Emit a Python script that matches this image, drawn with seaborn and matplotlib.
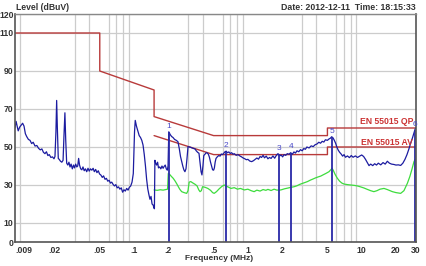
import numpy as np
import pandas as pd
import matplotlib
matplotlib.use("Agg")
import matplotlib.pyplot as plt
from matplotlib.ticker import NullFormatter
import seaborn as sns

# ---------------- data ----------------
peak_freq = [0.0090, 0.0092, 0.0094, 0.0096, 0.0099, 0.0102, 0.0105, 0.0108, 0.0111, 0.0114,
             0.0118, 0.0122, 0.0126, 0.0130, 0.0135, 0.0140, 0.0145, 0.0150, 0.0155, 0.0160,
             0.0165, 0.0170, 0.0175, 0.0180, 0.0186, 0.0192, 0.0198, 0.0202, 0.0206, 0.0209,
             0.0212, 0.0216, 0.0220, 0.0226, 0.0232, 0.0238, 0.0242, 0.0247, 0.0251, 0.0256,
             0.0262, 0.0268, 0.0274, 0.0280, 0.0287, 0.0294, 0.0300, 0.0307, 0.0314, 0.0320,
             0.0326, 0.0332, 0.0340, 0.0348, 0.0356, 0.0365, 0.0374, 0.0384, 0.0394, 0.0404,
             0.0414, 0.0426, 0.0437, 0.0448, 0.0460, 0.0472, 0.0485, 0.0498, 0.0512, 0.0526,
             0.0540, 0.0556, 0.0572, 0.0588, 0.0604, 0.0620, 0.0637, 0.0655, 0.0673, 0.0692,
             0.0711, 0.0731, 0.0751, 0.0772, 0.0794, 0.0816, 0.0838, 0.0862, 0.0886, 0.0910,
             0.0935, 0.0960, 0.0985, 0.1010, 0.1025, 0.1050, 0.1080, 0.1110, 0.1140, 0.1170,
             0.1200, 0.1230, 0.1260, 0.1290, 0.1320, 0.1350, 0.1380, 0.1410, 0.1440, 0.1470,
             0.1500, 0.1510, 0.1525, 0.1550, 0.1580, 0.1610, 0.1640, 0.1680, 0.1720, 0.1760,
             0.1800, 0.1840, 0.1880, 0.1920, 0.1960, 0.1990, 0.2020, 0.2080, 0.2140, 0.2200,
             0.2270, 0.2350, 0.2430, 0.2500, 0.2560, 0.2620, 0.2680, 0.2740, 0.2800, 0.2860,
             0.2920, 0.2980, 0.3060, 0.3150, 0.3240, 0.3340, 0.3430, 0.3520, 0.3620, 0.3720,
             0.3800, 0.3880, 0.3950, 0.4030, 0.4100, 0.4200, 0.4300, 0.4400, 0.4500, 0.4600,
             0.4700, 0.4800, 0.4900, 0.5000, 0.5080, 0.5160, 0.5250, 0.5400, 0.5550, 0.5700,
             0.5850, 0.6000, 0.6150, 0.6300, 0.6450, 0.6600, 0.6800, 0.7000, 0.7200, 0.7400,
             0.7600, 0.7900, 0.8200, 0.8500, 0.8800, 0.9100, 0.9400, 0.9700, 1.0000, 1.0400,
             1.0800, 1.1200, 1.1600, 1.2000, 1.2400, 1.2800, 1.3200, 1.3600, 1.4000, 1.4500,
             1.5000, 1.5500, 1.6000, 1.6600, 1.7200, 1.7800, 1.8400, 1.9000, 1.9600, 2.0200,
             2.0800, 2.1500, 2.2200, 2.3000, 2.3800, 2.4600, 2.5400, 2.6200, 2.7000, 2.8000,
             2.9000, 3.0000, 3.1000, 3.2000, 3.3000, 3.4500, 3.6000, 3.7500, 3.9000, 4.0500,
             4.2000, 4.3500, 4.5000, 4.6500, 4.8000, 5.0000, 5.1500, 5.3000, 5.4500, 5.6000,
             5.7500, 5.9000, 6.0500, 6.2000, 6.4000, 6.6000, 6.8000, 7.0000, 7.2000, 7.5000,
             7.8000, 8.1000, 8.4000, 8.8000, 9.2000, 9.6000, 10.000, 10.400, 10.800, 11.200,
             11.600, 12.000, 12.500, 13.000, 13.500, 14.000, 14.700, 15.400, 16.100, 16.800,
             17.500, 18.300, 19.200, 20.000, 21.000, 22.000, 23.000, 24.000, 25.000, 26.000,
             27.000, 28.000, 29.000, 29.500, 30.000]
peak_level = [60, 63.5, 61, 58.5, 60.5, 61.5, 62.5, 61, 57, 55.5,
              54, 53.5, 51.8, 52.5, 50.5, 50.8, 49.3, 48.5, 49, 47.2,
              46.5, 47.5, 45.5, 46, 44.5, 44.8, 43.8, 45, 58, 74.5,
              60, 44, 43.5, 42.5, 42, 43, 55, 68, 54, 41.5,
              40.5, 42, 39.5, 41, 38.5, 40.5, 39, 41, 39.5, 40,
              44, 40.5, 38.5, 38, 39.5, 37.5, 38.5, 37, 38.8, 37.3,
              38.5, 37.8, 38.8, 37, 38.2, 36.5, 37.5, 35.8, 35.2, 34,
              34.8, 33, 33.5, 32, 32.5, 31, 31.5, 30.3, 29.5, 30.2,
              28.5, 29, 27.8, 28.5, 26.2, 27.5, 26.8, 28.2, 27.3, 28.8,
              29.5, 31.5, 36, 58, 64, 61, 58.5, 56, 55, 53.5,
              51, 46, 40, 33, 28, 25, 22.5, 24, 20, 19.5,
              17.8, 17.5, 43, 41.5, 40.5, 42, 39, 39.5, 38.5, 40,
              38.8, 39.8, 40.5, 38.5, 37.8, 40, 58, 56.5, 55.5, 55,
              54, 53.5, 52.8, 49, 45, 42.5, 40, 38, 37, 38.5,
              44, 50.2, 50, 49.8, 49.5, 49.2, 49, 48, 47.2, 46.7,
              42, 37, 35.3, 40, 45.5, 46.2, 47, 46.8, 46.2, 44.5,
              42, 40, 38, 37.8, 39, 42, 44, 44.9, 45.5, 45.2,
              46.3, 46, 46.8, 47.5, 47.8, 47, 47.4, 46.6, 47, 46.2,
              46.5, 45.6, 46, 45.3, 44.8, 44.2, 43.8, 43.3, 43.5, 42.6,
              42.3, 42.8, 43.5, 44.2, 43.6, 45, 44.5, 45.6, 44.3, 45.2,
              43.8, 44.5, 44, 45.3, 44.1, 45.6, 46.5, 45.3, 45.8, 44.8,
              46, 45.6, 46.5, 46.2, 47, 46.2, 47.4, 46.8, 48, 47.5,
              48.6, 48, 49.2, 48.8, 50, 49.5, 50.6, 50.2, 51.2, 51.6,
              52.5, 52, 53, 52.6, 53.8, 53.5, 54.2, 54.6, 55.4, 54.8,
              53.5, 52, 50, 48.5, 47.2, 46.3, 45.2, 46, 44.6, 45.3,
              44.4, 45.5, 44.6, 45.3, 44.5, 45.2, 45.8, 45, 43.5, 41.8,
              40.2, 41, 40.2, 41.2, 40.5, 41.5, 40.6, 41.8, 41, 42.5,
              41.5, 41, 40.8, 40.5, 40.6, 40.3, 41.5, 43.5, 46, 49,
              52.2, 55, 58, 59.5, 60]

avg_freq = [0.150, 0.160, 0.170, 0.180, 0.190, 0.197, 0.200, 0.206, 0.213, 0.221,
            0.230, 0.238, 0.245, 0.252, 0.262, 0.275, 0.290, 0.298, 0.305, 0.315,
            0.330, 0.345, 0.358, 0.370, 0.380, 0.390, 0.400, 0.420, 0.445, 0.470,
            0.490, 0.506, 0.530, 0.560, 0.590, 0.620, 0.650, 0.680, 0.710, 0.760,
            0.810, 0.860, 0.930, 1.000, 1.070, 1.135, 1.200, 1.280, 1.360, 1.440,
            1.500, 1.600, 1.700, 1.800, 1.950, 2.100, 2.250, 2.400, 2.550, 2.700,
            2.850, 3.000, 3.170, 3.340, 3.550, 3.750, 3.950, 4.170, 4.370, 4.600,
            4.850, 5.160, 5.350, 5.500, 5.650, 5.850, 6.120, 6.400, 6.700, 7.000,
            7.500, 8.000, 8.600, 9.170, 9.800, 10.50, 11.20, 12.00, 12.80, 13.60,
            14.50, 15.70, 16.80, 18.60, 20.00, 22.00, 23.50, 25.20, 26.50, 27.70,
            28.80, 29.50]
avg_level = [27.4, 27.2, 27.5, 27.3, 27.6, 27.8, 36.1, 35.5, 34.5, 33.5,
             32, 30.5, 29.1, 27.8, 26.5, 26, 25.6, 27, 31.5, 31.8,
             31, 30.3, 29.5, 27.5, 26.5, 27, 29.1, 28.8, 28.2, 27.2,
             26, 25.6, 26.5, 28, 29.2, 30, 29.3, 28.8, 28.2, 28.6,
             27.8, 28.2, 27.4, 27.8, 27, 26.5, 27.3, 26.8, 27.6, 27.2,
             27.7, 27.1, 27.8, 27.3, 27.4, 28, 28.4, 28.8, 29.1, 29.6,
             30.3, 30.8, 31.3, 31.8, 32.6, 33.2, 33.8, 34.3, 34.7, 35.4,
             36.1, 37, 38, 38.8, 37.5, 35.5, 33.5, 32, 31, 30.5,
             30.2, 30, 29.8, 29.5, 29, 28.4, 27.7, 27, 26.5, 27,
             27.8, 28.2, 27.6, 26.5, 26, 25.6, 27, 30.9, 34.5, 38.5,
             42.3, 43.5]

qp_freq = [0.009, 0.05, 0.05, 0.15, 0.15, 0.5, 5, 5, 30]
qp_level = [110, 110, 90, 80, 66, 56, 56, 60, 60]
av_freq = [0.15, 0.5, 5, 5, 30]
av_level = [56, 46, 46, 50, 50]

marker_freq = [0.203, 0.641, 1.88, 2.38, 5.54, 29.2]
marker_level = [58, 47.5, 46.3, 47, 55.1, 59]
marker_names = ["1", "2", "3", "4", "5", "6"]

xtick_vals = [0.009, 0.02, 0.05, 0.1, 0.2, 0.5, 1, 2, 5, 10, 20, 30]
xtick_labels = [".009", ".02", ".05", ".1", ".2", ".5", "1", "2", "5", "10", "20", "30"]
xgrid_vals = [0.01, 0.02, 0.03, 0.04, 0.05, 0.06, 0.07, 0.08, 0.09,
              0.1, 0.2, 0.3, 0.4, 0.5, 0.6, 0.7, 0.8, 0.9,
              1, 2, 3, 4, 5, 6, 7, 8, 9, 10, 20]
ytick_vals = [0, 10, 30, 50, 70, 90, 110, 120]

# ---------------- plot ----------------
sns.set_style("white")
plt.rcParams['font.family'] = ['Liberation Sans', 'DejaVu Sans']

fig = plt.figure(figsize=(4.27, 2.66), dpi=100)
ax = fig.add_axes([15 / 427, 24 / 266, 401 / 427, 228 / 266])

blue = "#1c1ca0"
green = "#3ddc3d"
limit = "#b83a3a"

peak_df = pd.DataFrame({"f": peak_freq, "L": peak_level})
avg_df = pd.DataFrame({"f": avg_freq, "L": avg_level})
qp_df = pd.DataFrame({"f": qp_freq, "L": qp_level})
av_df = pd.DataFrame({"f": av_freq, "L": av_level})

sns.lineplot(data=qp_df, x="f", y="L", sort=False, estimator=None, color=limit, lw=1.0, ax=ax)
sns.lineplot(data=av_df, x="f", y="L", sort=False, estimator=None, color=limit, lw=1.0, ax=ax)
sns.lineplot(data=avg_df, x="f", y="L", sort=False, estimator=None, color=green, lw=0.9, ax=ax)
sns.lineplot(data=peak_df, x="f", y="L", sort=False, estimator=None, color=blue, lw=0.9, ax=ax)

ax.vlines(marker_freq, 0, marker_level, color="#2a2aa8", lw=1.3)
for f, L, n in zip(marker_freq, marker_level, marker_names):
    ax.text(f, L + 1.2, n, color="#4a4ac8", fontsize=6, ha="center", va="bottom")

ax.set_xscale("log")
ax.set_xlim(0.009, 30)
ax.set_ylim(0, 120)
ax.set_xticks(xgrid_vals, minor=True)
ax.xaxis.set_minor_formatter(NullFormatter())
ax.set_xticks(xtick_vals)
ax.set_xticklabels(xtick_labels)
ax.set_yticks(ytick_vals)
ax.tick_params(which="both", length=0)
ax.tick_params(axis="x", pad=3)
ax.tick_params(axis="y", pad=1)
for lab in ax.get_xticklabels() + ax.get_yticklabels():
    lab.set_fontsize(6.2)
    lab.set_fontweight("bold")
    lab.set_color("#333333")
ax.get_xticklabels()[0].set_horizontalalignment("left")
ax.grid(False)
ax.grid(which="minor", axis="x", color="#cccccc", lw=0.9)
ax.grid(which="major", axis="y", color="#cccccc", lw=0.9)
ax.set_axisbelow(True)
for side in ["left", "bottom", "right"]:
    ax.spines[side].set_color("#555555")
    ax.spines[side].set_linewidth(1.2)
ax.spines["top"].set_color("#888888")
ax.spines["top"].set_linewidth(1.0)

ax.set_xlabel("")
ax.set_ylabel("")
fig.text(219 / 427, 1 - 258 / 266, "Frequency (MHz)", fontsize=6, fontweight="bold",
         color="#333333", ha="center", va="center")
fig.text(16 / 427, 1 - 8 / 266, "Level (dBuV)", fontsize=6.2, fontweight="bold",
         color="#333333", ha="left", va="center")
fig.text(416 / 427, 1 - 8 / 266, "Date: 2012-12-11  Time: 18:15:33", fontsize=6.3,
         fontweight="bold", color="#333333", ha="right", va="center")
ax.text(0.993, 63.5, "EN 55015 QP", transform=ax.get_yaxis_transform(), color="#cc3333",
        fontsize=6.2, fontweight="bold", ha="right", va="center")
ax.text(0.993, 52.5, "EN 55015 AV", transform=ax.get_yaxis_transform(), color="#cc3333",
        fontsize=6.2, fontweight="bold", ha="right", va="center")

fig.savefig("out.png", dpi=100)
